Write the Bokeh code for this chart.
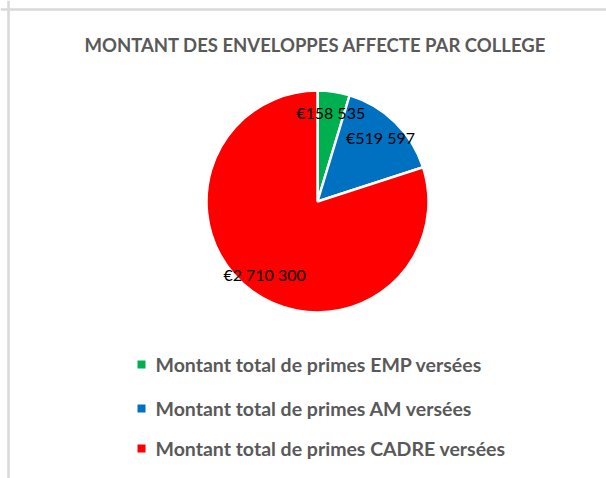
import numpy as np
from bokeh.plotting import figure
from bokeh.models import Range1d, Span
from bokeh.core.properties import value
from bokeh.embed import file_html
from bokeh.resources import INLINE

title_text = "MONTANT DES ENVELOPPES AFFECTE PAR COLLEGE"
categories = ["Montant total de primes EMP versées",
              "Montant total de primes AM versées",
              "Montant total de primes CADRE versées"]
amounts = [158535, 519597, 2710300]
colors = ["#00B050", "#0070C0", "#FF0000"]

W, H = 606, 478
p = figure(width=W, height=H, output_backend="svg", toolbar_location=None,
           x_range=Range1d(0, W), y_range=Range1d(0, H), min_border=0)
p.axis.visible = False
p.grid.visible = False
p.outline_line_color = None
p.background_fill_color = "white"

# border lines (top and left)
p.add_layout(Span(location=H - 9, dimension="width", line_color="#d9d9d9", line_width=2.5))
p.add_layout(Span(location=8, dimension="height", line_color="#d9d9d9", line_width=2.5))

# pie
cx, cy, r = 317, 277, 111
vals = np.array(amounts, dtype=float)
frac = vals / vals.sum()
cum = np.concatenate([[0], np.cumsum(frac)])
start = np.pi / 2 - cum[:-1] * 2 * np.pi
end = np.pi / 2 - cum[1:] * 2 * np.pi
p.wedge(x=cx, y=cy, radius=r, start_angle=start, end_angle=end, direction="clock",
        fill_color=colors, line_color="white", line_width=2.5)

mid = (start + end) / 2
lr = 0.81 * r
lx = cx + lr * np.cos(mid)
ly = cy + lr * np.sin(mid)
labels = ["€" + f"{a:,}".replace(",", " ") for a in amounts]
p.text(x=lx, y=ly, text=labels, text_align="center", text_baseline="middle",
       text_font=value("Lato"), text_font_size="16px", text_color="black")

# title
p.text(x=[315], y=[434], text=[title_text], text_align="center", text_baseline="middle",
       text_font=value("Lato"), text_font_size="18.5px", text_font_style="bold",
       text_color="#595959")

# legend
ly_leg = [114, 70, 30]
p.scatter(x=[141] * 3, y=ly_leg, marker="square", size=8, fill_color=colors, line_color=None)
p.text(x=[155] * 3, y=ly_leg, text=categories, text_align="left", text_baseline="middle",
       text_font=value("Lato"), text_font_size="19.5px", text_font_style="bold",
       text_color="#595959")

open("out.html", "w").write(file_html(p, INLINE))
